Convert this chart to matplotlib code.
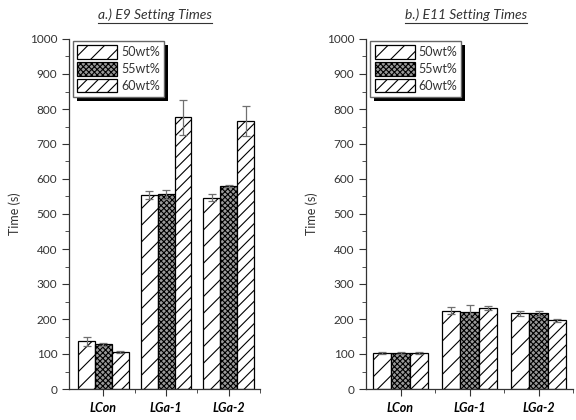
import matplotlib
matplotlib.use("Agg")
import matplotlib.pyplot as plt
import numpy as np
from matplotlib.lines import Line2D
from matplotlib.patches import Rectangle
from matplotlib.ticker import MultipleLocator, FixedLocator

plt.rcParams['font.family'] = ['Lato', 'DejaVu Sans']
plt.rcParams['hatch.linewidth'] = 0.8

# Data
categories = ['LCon', 'LGa-1', 'LGa-2']
series = ['50wt%', '55wt%', '60wt%']

e9_means = [[137, 555, 547],
            [128, 556, 580],
            [107, 776, 767]]
e9_err = [[13, 11, 9],
          [4, 12, 4],
          [3, 50, 43]]

e11_means = [[103, 223, 216],
             [104, 221, 216],
             [104, 231, 196]]
e11_err = [[3, 10, 8],
           [3, 18, 7],
           [3, 5, 4]]

titles = ['a.) E9 Setting Times', 'b.) E11 Setting Times']

hatches = ['//', 'xxxxxx', '///']
faces = ['white', '#9a9a9a', 'white']

fig = plt.figure(figsize=(5.76, 4.2), dpi=100)
ax1 = fig.add_axes([69 / 576, 31 / 420, 191 / 576, 350 / 420])
ax2 = fig.add_axes([366 / 576, 31 / 420, 207 / 576, 350 / 420])

x = np.arange(1, len(categories) + 1)
w = 0.27

legends = []
for ax, means, errs, xl in [(ax1, e9_means, e9_err, (0.45, 3.5)),
                            (ax2, e11_means, e11_err, (0.5, 3.5))]:
    for i, name in enumerate(series):
        ax.bar(x + (i - 1) * w, means[i], w, yerr=errs[i],
               facecolor=faces[i], edgecolor='black', linewidth=0.9,
               hatch=hatches[i], label=name,
               error_kw=dict(ecolor='#707070', elinewidth=0.9, capsize=3, capthick=0.9))
    ax.set_xlim(*xl)
    ax.set_ylim(0, 1000)
    ax.yaxis.set_major_locator(MultipleLocator(100))
    ax.yaxis.set_minor_locator(MultipleLocator(50))
    ax.set_xticks(x)
    ax.set_xticklabels(categories, fontsize=9, fontweight='bold', fontstyle='italic')
    ax.xaxis.set_minor_locator(FixedLocator([1.5, 2.5, 3.5]))
    ax.tick_params(axis='y', which='major', direction='out', length=5, labelsize=8.5, colors='#333333')
    ax.tick_params(axis='y', which='minor', direction='out', length=3, color='#333333')
    ax.tick_params(axis='x', which='major', direction='out', length=5, pad=4, color='#333333')
    ax.tick_params(axis='x', which='minor', direction='out', length=3, color='#333333')
    for s in ['top', 'right']:
        ax.spines[s].set_visible(False)
    for s in ['left', 'bottom']:
        ax.spines[s].set_color('#333333')
        ax.spines[s].set_linewidth(0.9)
    ax.set_ylabel('Time (s)', fontsize=9, color='#333333', labelpad=6)
    leg = ax.legend(loc='upper left', bbox_to_anchor=(0.02, 0.995), fontsize=9,
                    fancybox=False, shadow=False,
                    edgecolor='#666666', framealpha=1, handlelength=3.2,
                    handleheight=1.3, handletextpad=0.3, labelspacing=0.25,
                    borderpad=0.35, borderaxespad=0)
    for t in leg.get_texts():
        t.set_color('#333333')
    legends.append((ax, leg))

# Titles, italic and underlined
title_x = [155 / 576, 466 / 576]
tts = []
for tx, title in zip(title_x, titles):
    tts.append(fig.text(tx, 0.965, title, ha='center', va='center',
                        fontsize=10, fontstyle='italic', color='#333333'))
renderer = fig.canvas.get_renderer()
for t in tts:
    bb = t.get_window_extent(renderer).transformed(fig.transFigure.inverted())
    fig.add_artist(Line2D([bb.x0, bb.x1], [bb.y0 - 0.004, bb.y0 - 0.004],
                          transform=fig.transFigure, color='#333333', linewidth=0.8))

# solid black drop shadow behind each legend box (inside the axes, below the legend)
for ax, leg in legends:
    bb = leg.get_window_extent(renderer)
    ax.add_patch(Rectangle((bb.x0 + 4, bb.y0 - 4), bb.width, bb.height,
                           transform=None, facecolor='black',
                           edgecolor='none', zorder=4.9, clip_on=False))

fig.savefig('out.png', dpi=100)
